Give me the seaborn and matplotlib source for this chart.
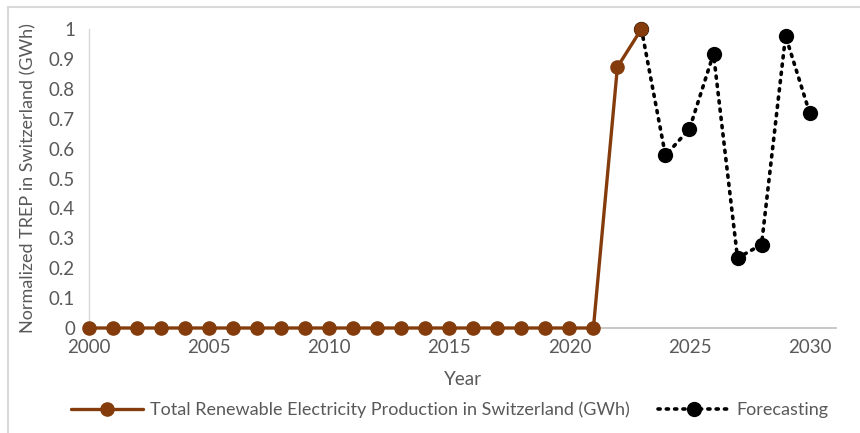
import matplotlib
matplotlib.use("Agg")
import matplotlib.pyplot as plt
from matplotlib.lines import Line2D
import seaborn as sns
import pandas as pd

# Historical normalized production
hist_years = list(range(2000, 2024))
hist_values = [0.0] * 22 + [0.873, 1.0]

# Forecast values
fc_years = list(range(2023, 2031))
fc_values = [1.0, 0.577, 0.666, 0.917, 0.234, 0.279, 0.977, 0.720]

y_ticks = [0, 0.1, 0.2, 0.3, 0.4, 0.5, 0.6, 0.7, 0.8, 0.9, 1]
y_tick_labels = ["0", "0.1", "0.2", "0.3", "0.4", "0.5", "0.6", "0.7", "0.8", "0.9", "1"]
x_ticks = [2000, 2005, 2010, 2015, 2020, 2025, 2030]

hist_label = "Total Renewable Electricity Production in Switzerland (GWh)"
fc_label = "Forecasting"

sns.set_theme(style="white")
plt.rcParams["font.family"] = ["Lato", "DejaVu Sans"]

BROWN = "#843C0C"
TEXT = "#595959"
DOTS = (0, (0.6, 1.7))

fig = plt.figure(figsize=(8.6, 4.33), dpi=100)
ax = fig.add_axes([89 / 860, 1 - 328 / 433, (836 - 89) / 860, (328 - 29) / 433])

hist_df = pd.DataFrame({"Year": hist_years, "Value": hist_values})
fc_df = pd.DataFrame({"Year": fc_years, "Value": fc_values})

sns.lineplot(data=fc_df, x="Year", y="Value", ax=ax, color="black",
             linestyle=DOTS, linewidth=2.6, marker="o",
             markersize=11, markeredgewidth=0, dash_capstyle="round",
             clip_on=False, zorder=3)
sns.lineplot(data=hist_df, x="Year", y="Value", ax=ax, color=BROWN,
             linewidth=2.4, marker="o", markersize=10.5, markeredgewidth=0,
             clip_on=False, zorder=4)

ax.set_xlim(2000, 2031.1)
ax.set_ylim(0, 1)
ax.set_xticks(x_ticks)
ax.set_xticklabels([str(t) for t in x_ticks])
ax.set_yticks(y_ticks)
ax.set_yticklabels(y_tick_labels)
ax.tick_params(axis="both", length=0, labelsize=13.5, labelcolor=TEXT)
ax.tick_params(axis="x", pad=8)
ax.tick_params(axis="y", pad=10)

for side in ("top", "right"):
    ax.spines[side].set_visible(False)
ax.spines["left"].set_color("#D9D9D9")
ax.spines["bottom"].set_color("#BFBFBF")
ax.spines["left"].set_linewidth(1.0)
ax.spines["bottom"].set_linewidth(1.2)

ax.set_xlabel("Year", fontsize=13.5, color=TEXT, labelpad=11)
ax.set_ylabel("Normalized TREP in Switzerland (GWh)", fontsize=13,
              color=TEXT, labelpad=9)

handles = [
    Line2D([], [], color=BROWN, linewidth=2.4, marker="o", markersize=10.5,
           markeredgewidth=0),
    Line2D([], [], color="black", linewidth=2.6, linestyle=DOTS,
           dash_capstyle="round", marker="o", markersize=11, markeredgewidth=0),
]
fig.legend(handles, [hist_label, fc_label], loc="center",
           bbox_to_anchor=(450 / 860, 1 - 410 / 433), ncol=2, frameon=False,
           fontsize=13, labelcolor=TEXT, handlelength=4.0, handletextpad=0.35,
           columnspacing=1.6)

# Chart-area border
fig.add_artist(Line2D([8 / 860, 1], [1 - 7 / 433, 1 - 7 / 433],
                      transform=fig.transFigure, color="#D9D9D9", linewidth=1.5))
fig.add_artist(Line2D([8 / 860, 8 / 860], [0, 1 - 7 / 433],
                      transform=fig.transFigure, color="#D9D9D9", linewidth=1.5))

fig.savefig("out.png", dpi=100, facecolor="white")
